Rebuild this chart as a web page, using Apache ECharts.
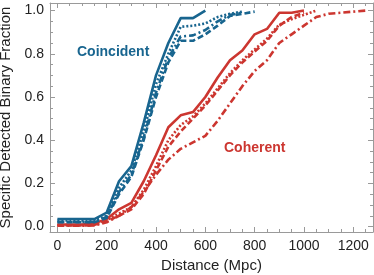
<!DOCTYPE html>
<html><head><meta charset="utf-8">
<script src="https://cdn.jsdelivr.net/npm/echarts@6/dist/echarts.min.js"></script>
<style>html,body{margin:0;padding:0;background:#fff}#c{width:374px;height:275px}</style>
</head><body><div id="c"></div>
<script>
// Distance grid (Mpc)
const distances = [0,50,100,150,200,250,300,350,400,450,500,550,600,650,700,750,800,850,900,950,1000,1050,1100,1150,1200,1250];

// Coincident (blue)
const coincidentSolid   = [0.035,0.035,0.035,0.035,0.065,0.21,0.28,0.48,0.70,0.85,0.965,0.965,1.0];
const coincidentDotted  = [0.028,0.028,0.028,0.028,0.05,0.18,0.26,0.44,0.66,0.80,0.925,0.93,0.94,0.97,0.985,0.995];
const coincidentDashDot = [0.022,0.022,0.022,0.022,0.045,0.16,0.24,0.41,0.62,0.78,0.88,0.885,0.91,0.95,0.98,0.99];
const coincidentDashed  = [0.02,0.02,0.02,0.02,0.04,0.15,0.23,0.40,0.60,0.76,0.86,0.86,0.89,0.93,0.975,0.985,0.995];

// Coherent (red)
const coherentSolid   = [0.01,0.01,0.01,0.015,0.035,0.08,0.11,0.21,0.33,0.46,0.515,0.53,0.60,0.69,0.77,0.815,0.89,0.915,0.99,0.99,1.0];
const coherentDotted  = [0.007,0.007,0.007,0.01,0.03,0.06,0.09,0.17,0.28,0.40,0.47,0.51,0.57,0.64,0.71,0.77,0.82,0.87,0.935,0.96,0.98,1.0];
const coherentDashed  = [0.005,0.005,0.005,0.008,0.025,0.05,0.08,0.15,0.26,0.37,0.44,0.50,0.56,0.63,0.70,0.76,0.81,0.86,0.93,0.97,0.99];
const coherentDashDot = [0.004,0.004,0.004,0.005,0.02,0.05,0.09,0.16,0.24,0.31,0.36,0.39,0.42,0.49,0.57,0.65,0.72,0.77,0.85,0.89,0.93,0.97,0.985,0.99,0.995,1.0];

// Tick values
const xMajorTicks = [0,200,400,600,800,1000,1200];
const xMinorTicks = [0,50,100,150,200,250,300,350,400,450,500,550,600,650,700,750,800,850,900,950,1000,1050,1100,1150,1200,1250];
const yMajorTicks = [0,0.2,0.4,0.6,0.8,1.0];
const yMinorTicks = [0,0.05,0.1,0.15,0.2,0.25,0.3,0.35,0.4,0.45,0.5,0.55,0.6,0.65,0.7,0.75,0.8,0.85,0.9,0.95,1.0];

const BLUE = '#18658f';
const RED = '#cc3630';
const FRAME = '#9a9a9a';
const FONT = 'Liberation Sans';

function pairs(arr){ return arr.map((v,i)=>[distances[i], v]); }
function line(name, arr, color, dash){
  return {name, type:'line', data:pairs(arr), xAxisIndex:0, yAxisIndex:0, symbol:'none', smooth:false,
    lineStyle:{color, width:2.6, type:dash, cap:'butt'}, z:2, animation:false};
}

const X_MIN=-30, X_MAX=1280, Y_MIN=-0.025, Y_MAX=1.035;
function xAx(pos, ticks, len, labels, withLine, name){
  return {type:'value', min:X_MIN, max:X_MAX, position:pos, gridIndex:0,
    name: name||'', nameLocation:'middle', nameGap:23,
    nameTextStyle:{fontFamily:FONT, fontSize:15, color:'#222'},
    axisLine:{show:withLine, onZero:false, lineStyle:{color:FRAME, width:1}},
    axisTick:{show:true, inside:true, length:len, customValues:ticks, lineStyle:{color:FRAME, width:1}},
    axisLabel:{show:labels, customValues:ticks, fontFamily:FONT, fontSize:14, color:'#222', margin:7,
      formatter:v=>String(v)},
    splitLine:{show:false}};
}
function yAx(pos, ticks, len, labels, withLine, name){
  return {type:'value', min:Y_MIN, max:Y_MAX, position:pos, gridIndex:0,
    name: name||'', nameLocation:'middle', nameGap:34, nameRotate:90,
    nameTextStyle:{fontFamily:FONT, fontSize:15, color:'#222'},
    axisLine:{show:withLine, onZero:false, lineStyle:{color:FRAME, width:1}},
    axisTick:{show:true, inside:true, length:len, customValues:ticks, lineStyle:{color:FRAME, width:1}},
    axisLabel:{show:labels, customValues:ticks, fontFamily:FONT, fontSize:14, color:'#222', margin:6,
      formatter:v=>v.toFixed(1)},
    splitLine:{show:false}};
}

const chart = echarts.init(document.getElementById('c'), null, {renderer:'canvas'});
chart.setOption({
  animation:false,
  backgroundColor:'#fff',
  grid:{left:50, right:1, top:3, bottom:43, containLabel:false, outerBoundsMode:'none'},
  xAxis:[
    xAx('bottom', xMajorTicks, 5, true, true, 'Distance (Mpc)'),
    xAx('bottom', xMinorTicks, 3, false, false),
    xAx('top', xMajorTicks, 5, false, true),
    xAx('top', xMinorTicks, 3, false, false)
  ],
  yAxis:[
    yAx('left', yMajorTicks, 5, true, true, 'Specific Detected Binary Fraction'),
    yAx('left', yMinorTicks, 3, false, false),
    yAx('right', yMajorTicks, 5, false, true),
    yAx('right', yMinorTicks, 3, false, false)
  ],
  graphic:[
    {type:'text', left:77, top:45, style:{text:'Coincident', fill:BLUE, font:'bold 14px "Liberation Sans"'}},
    {type:'text', left:224, top:141, style:{text:'Coherent', fill:RED, font:'bold 14px "Liberation Sans"'}}
  ],
  series:[
    line('Coherent dash-dot', coherentDashDot, RED, [7,3,2,3]),
    line('Coherent dashed', coherentDashed, RED, [6,3]),
    line('Coherent dotted', coherentDotted, RED, [2,2]),
    line('Coherent solid', coherentSolid, RED, 'solid'),
    line('Coincident dash-dot', coincidentDashDot, BLUE, [7,3,2,3]),
    line('Coincident dashed', coincidentDashed, BLUE, [6,3]),
    line('Coincident dotted', coincidentDotted, BLUE, [2,2]),
    line('Coincident solid', coincidentSolid, BLUE, 'solid')
  ]
});
</script>
</body></html>
